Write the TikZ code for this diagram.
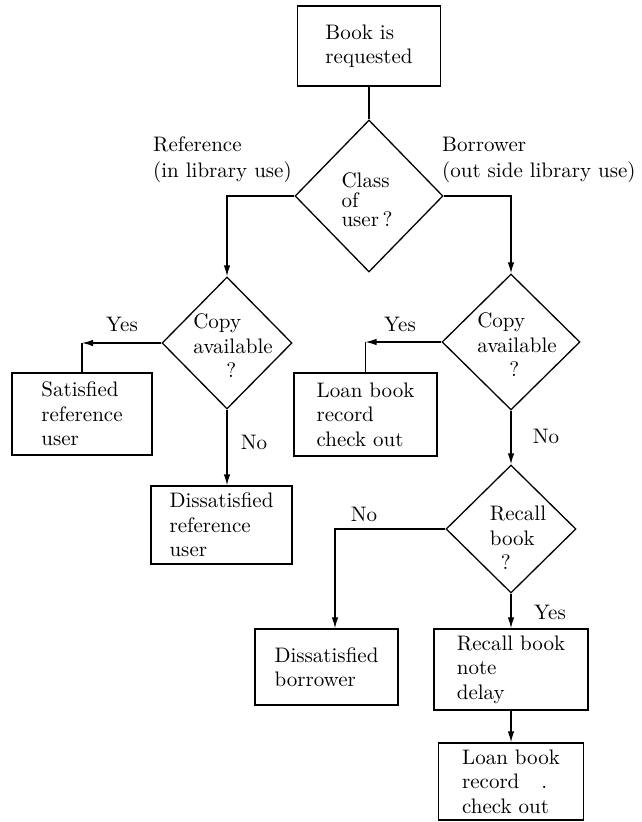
\documentclass[tikz,border=0pt]{standalone}
\usepackage{fontspec}
\setmainfont{lmroman10-regular}[Extension=.otf]
\usetikzlibrary{shapes.geometric,arrows.meta}
\begin{document}
\begin{tikzpicture}[x=1pt,y=-1pt,
  every node/.style={font=\fontsize{21}{24.5}\selectfont},
  box/.style={draw, line width=1.3pt, inner sep=0pt, align=left},
  dia/.style={draw, diamond, line width=1.3pt, inner sep=0pt},
  txt/.style={inner sep=0pt, align=left},
  lbl/.style={inner sep=0pt, align=left, font=\fontsize{21}{26}\selectfont},
  arr/.style={line width=1.3pt, -{Latex[length=11pt,width=6.5pt]}},
  ln/.style={line width=1.3pt}]
\useasboundingbox (0,0) rectangle (641,822);

% boxes and decisions
\node[box, minimum width=143, minimum height=80] (top) at (369,46) {Book is\\requested};
\node[dia, minimum width=148, minimum height=152] (d1) at (369,196) {};
\node[txt, font=\fontsize{21}{19.5}\selectfont] (t1) at (367,200) {Class\\of\\user\,?};
\node[lbl, anchor=west] (lref) at (153,160) {Reference\\(in library use)};
\node[lbl, anchor=west] (lbor) at (442,160) {Borrower\\(out side library use)};

\node[dia, minimum width=130, minimum height=132] (d2) at (227,343) {};
\node[txt] (t2) at (233,346) {Copy\\available\\\hspace*{33pt}?};
\node[dia, minimum width=138, minimum height=136] (d3) at (511,342) {};
\node[txt] (t3) at (517,345) {Copy\\available\\\hspace*{32pt}?};

\node[box, minimum width=140, minimum height=82] (sat) at (82,414) {Satisfied\\reference\\user};
\node[box, minimum width=143, minimum height=83] (loan1) at (365.5,414.5) {Loan book\\record\\check out};
\node[box, minimum width=141, minimum height=78] (dref) at (221.5,525) {Dissatisfied\\reference\\user};

\node[dia, minimum width=130, minimum height=128] (d4) at (511,529) {};
\node[txt] (t4) at (518,538) {Recall\\book\\\hspace*{11pt}?};

\node[box, minimum width=143, minimum height=76] (dbor) at (326.5,667) {Dissatisfied\\borrower};
\node[box, minimum width=154, minimum height=81] (rbox) at (511,669.5) {Recall book\\note\\delay};
\node[box, minimum width=145, minimum height=77] (loan2) at (511,781.5) {Loan book\\record\hspace{22pt}.\\check out};

% edge labels
\node[txt] (yes1) at (122,324) {Yes};
\node[txt] (yes2) at (400,324) {Yes};
\node[txt] (no1) at (254,442) {No};
\node[txt] (no2) at (546,436) {No};
\node[txt] (no3) at (364,514) {No};
\node[txt] (yes3) at (550,612) {Yes};

% connectors
\draw[ln] (top.south) -- (d1.north);
\draw[arr] (d1.west) -| (d2.north);
\draw[arr] (d1.east) -| (d3.north);
\coordinate (c1) at (sat.north |- d2.west);
\draw[arr] (d2.west) -- (c1);
\draw[ln] (c1) -- (sat.north);
\coordinate (c2) at (loan1.north |- d3.west);
\draw[arr] (d3.west) -- (c2);
\draw[ln] (c2) -- (loan1.north);
\draw[arr] (d2.south) -- (d2.south |- dref.north);
\draw[arr] (d3.south) -- (d4.north);
\coordinate (c3) at ([xshift=8.5pt]dbor.north);
\draw[arr] (d4.west) -| (c3);
\draw[arr] (d4.south) -- (rbox.north);
\draw[arr] (rbox.south) -- (loan2.north);
\end{tikzpicture}
\end{document}
